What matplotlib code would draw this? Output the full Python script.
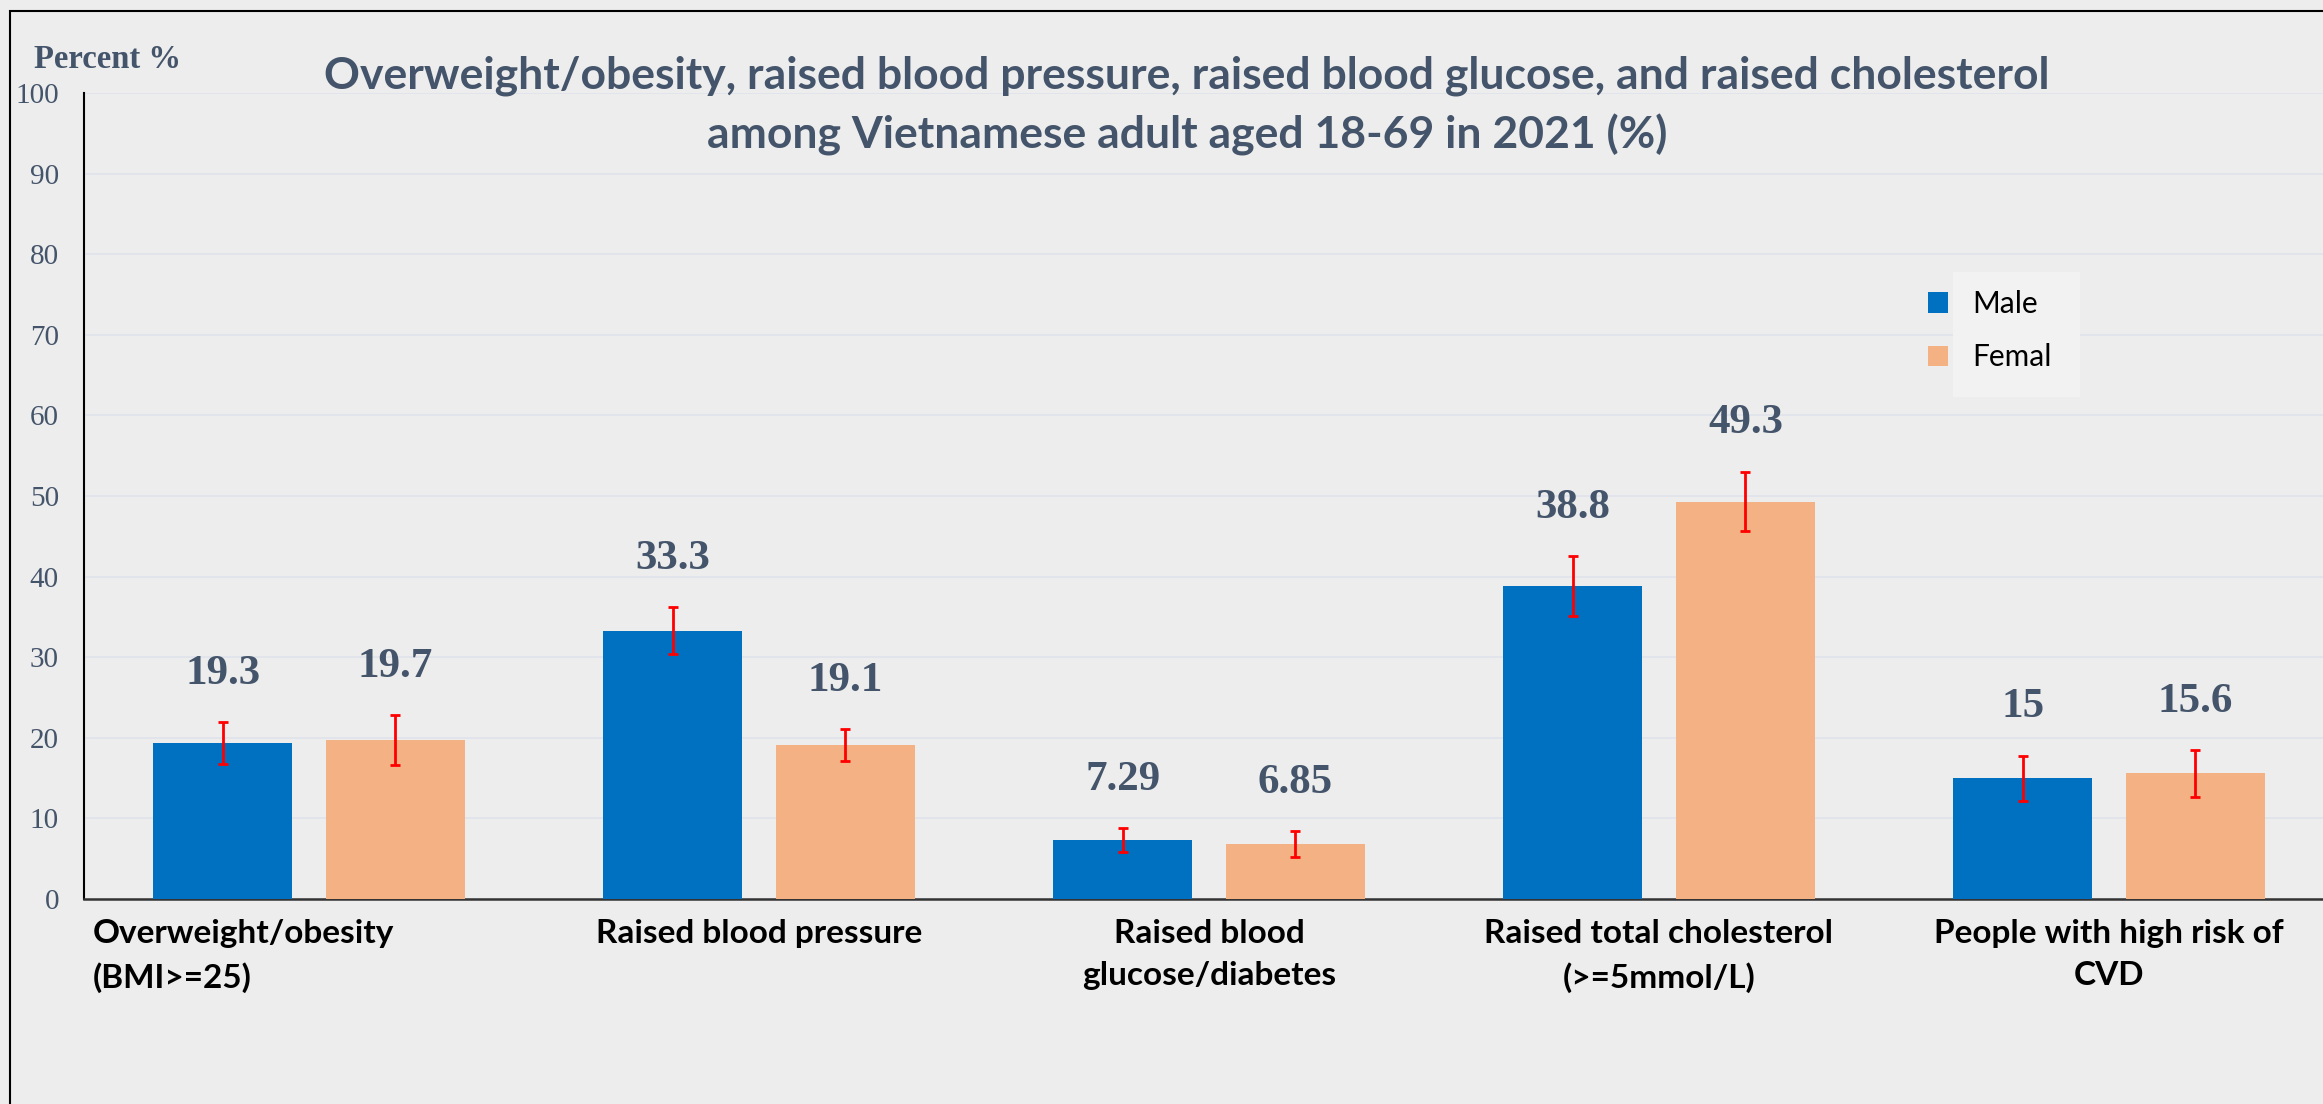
import matplotlib
matplotlib.use("Agg")
import matplotlib.pyplot as plt
import numpy as np
from matplotlib.patches import Rectangle
from matplotlib.transforms import blended_transform_factory, ScaledTranslation

categories = ["Overweight/obesity\n(BMI>=25)", "Raised blood pressure",
              "Raised blood\nglucose/diabetes", "Raised total cholesterol\n(>=5mmol/L)",
              "People with high risk of\nCVD"]
male = [19.3, 33.3, 7.29, 38.8, 15]
female = [19.7, 19.1, 6.85, 49.3, 15.6]
male_err = [2.6, 2.9, 1.5, 3.7, 2.8]
female_err = [3.1, 2.0, 1.6, 3.7, 2.9]
male_labels = ["19.3", "33.3", "7.29", "38.8", "15"]
female_labels = ["19.7", "19.1", "6.85", "49.3", "15.6"]
yticks = [0, 10, 20, 30, 40, 50, 60, 70, 80, 90, 100]
series_names = ["Male", "Femal"]

W, H, DPI = 2323, 1104, 100
BG = "#EDEDED"
TXT = "#44546A"
C_M = "#0070C0"
C_F = "#F4B183"

fig = plt.figure(figsize=(W / DPI, H / DPI), dpi=DPI, facecolor=BG)
ax = fig.add_axes([84 / W, (H - 899) / H, 2250 / W, (899 - 93) / H])
ax.set_facecolor(BG)

x = np.arange(len(categories))
bw = 0.309
off = 0.192
bm = ax.bar(x - off, male, bw, color=C_M, zorder=3, label=series_names[0])
bf = ax.bar(x + off, female, bw, color=C_F, zorder=3, label=series_names[1])
ax.errorbar(x - off, male, yerr=male_err, fmt="none", ecolor="red", elinewidth=2,
            capsize=3.8, capthick=2, zorder=4)
ax.errorbar(x + off, female, yerr=female_err, fmt="none", ecolor="red", elinewidth=2,
            capsize=3.8, capthick=2, zorder=4)

for xs, vals, errs, labs in [(x - off, male, male_err, male_labels),
                             (x + off, female, female_err, female_labels)]:
    for xi, v, e, lab in zip(xs, vals, errs, labs):
        ax.text(xi, v + e + 6, lab, ha="center", va="center", fontsize=31,
                fontweight="bold", family="Liberation Serif", color=TXT, zorder=5)

ax.set_xlim(-0.5, 4.5)
ax.set_ylim(0, 100)
ax.set_yticks(yticks)
ax.set_yticklabels([str(t) for t in yticks], family="Liberation Serif", fontsize=21, color=TXT)
ax.tick_params(axis="y", length=0, pad=18)
ax.set_xticks([])
ax.grid(axis="y", color="#DFE4EB", linewidth=1.2, zorder=0)
ax.set_axisbelow(True)
for s in ["top", "right"]:
    ax.spines[s].set_visible(False)
ax.spines["left"].set_color("black")
ax.spines["left"].set_linewidth(1.5)
ax.spines["bottom"].set_color("#333333")
ax.spines["bottom"].set_linewidth(1.8)

# category labels
trans = blended_transform_factory(ax.transData, ax.transAxes)
for i, lab in enumerate(categories):
    if i == 0:
        t = trans + ScaledTranslation(-216 / DPI, 0, fig.dpi_scale_trans)
        ax.text(i, -0.025, lab, transform=t, ha="left", va="top", ma="left",
                fontsize=24, fontweight="bold", family="Lato", color="black", linespacing=1.55)
    else:
        ax.text(i, -0.025, lab, transform=trans, ha="center", va="top", ma="center",
                fontsize=24, fontweight="bold", family="Lato", color="black", linespacing=1.55)

# title
fig.text(1187 / W, 1 - 106 / H,
         "Overweight/obesity, raised blood pressure, raised blood glucose, and raised cholesterol\n"
         "among Vietnamese adult aged 18-69 in 2021 (%)",
         ha="center", va="center", fontsize=32, fontweight="bold", family="Lato",
         color=TXT, linespacing=1.52)

fig.text(107 / W, 1 - 60 / H, "Percent %", ha="center", va="center", fontsize=23.5,
         fontweight="bold", family="Liberation Serif", color=TXT)

# legend
ax.add_patch(Rectangle((1953 / W, 1 - 397 / H), 127 / W, 125 / H, transform=fig.transFigure,
                       facecolor="#F2F2F2", edgecolor="none", zorder=2, clip_on=False))
leg = ax.legend(handles=[bm, bf], loc="upper left", bbox_to_anchor=(1928 / W, 1 - 290 / H),
                bbox_transform=fig.transFigure, frameon=False, borderpad=0, borderaxespad=0,
                handlelength=0.68, handleheight=0.68, handletextpad=0.8, labelspacing=0.85,
                prop={"family": "Lato", "size": 21.5})
leg.set_zorder(6)

# outer frame
fig.add_artist(Rectangle((10 / W, -0.5), 2.0, 1 - 11 / H + 0.5, transform=fig.transFigure,
                         facecolor="none", edgecolor="black", linewidth=1.5, zorder=10))

fig.savefig("out.png", dpi=DPI, facecolor=BG)
